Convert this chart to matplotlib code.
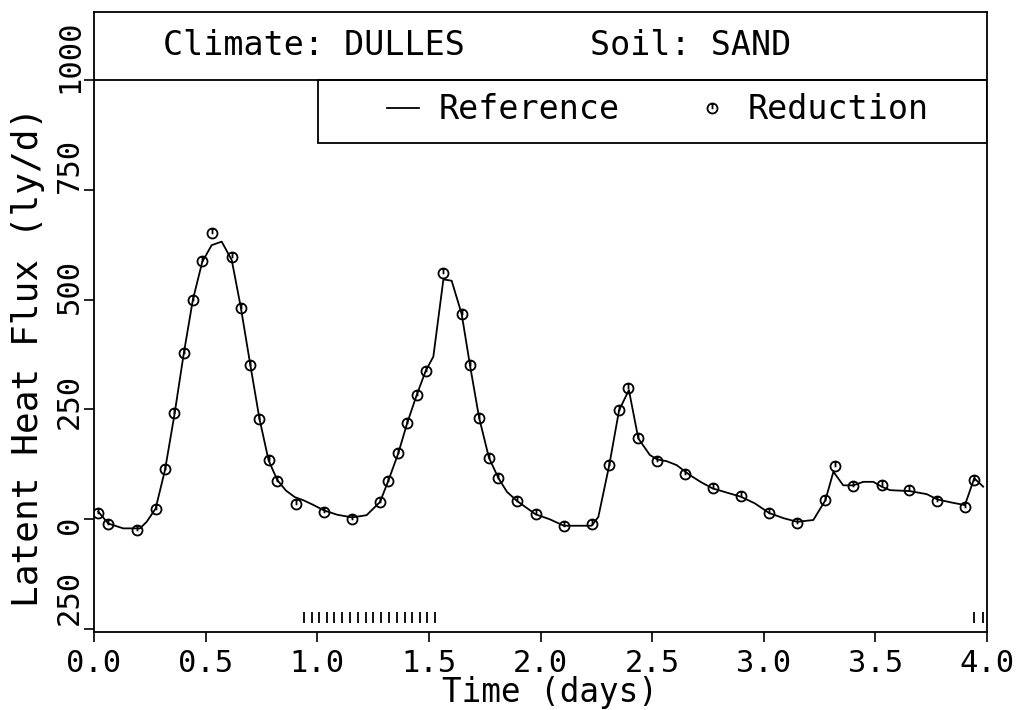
import matplotlib
matplotlib.use('Agg')
import matplotlib.pyplot as plt
from matplotlib.path import Path
from matplotlib.patches import Rectangle
from matplotlib.lines import Line2D
from matplotlib.transforms import blended_transform_factory

# ---------------- data ----------------
ref_t = [0.019, 0.064, 0.131, 0.206, 0.236, 0.276, 0.318, 0.360, 0.402, 0.443,
         0.485, 0.527, 0.572, 0.617, 0.657, 0.699, 0.741, 0.782, 0.821, 0.860,
         0.900, 0.938, 0.980, 1.030, 1.090, 1.156, 1.221, 1.281, 1.318, 1.363,
         1.403, 1.445, 1.486, 1.520, 1.565, 1.602, 1.647, 1.684, 1.725, 1.769,
         1.811, 1.850, 1.896, 1.978, 2.040, 2.105, 2.229, 2.259, 2.308, 2.352,
         2.396, 2.438, 2.490, 2.523, 2.565, 2.610, 2.670, 2.720, 2.771, 2.898,
         2.960, 3.024, 3.090, 3.150, 3.222, 3.276, 3.312, 3.356, 3.401, 3.446,
         3.491, 3.528, 3.566, 3.652, 3.730, 3.777, 3.840, 3.901, 3.943, 3.983]
ref_v = [17, -10, -21, -21, -6, 24, 112, 237, 377, 500,
         586, 624, 632, 590, 484, 355, 229, 134, 89, 65,
         50, 43, 33, 20, 10, 4, 9, 39, 87, 150,
         219, 282, 338, 370, 546, 543, 467, 351, 231, 140,
         94, 62, 41, 11, 0, -15, -15, 5, 123, 248,
         294, 184, 146, 136, 132, 123, 100, 84, 70, 51,
         36, 14, 2, -6, -2, 43, 108, 77, 77, 85,
         85, 74, 66, 64, 57, 45, 38, 32, 93, 74]

red_t = [0.019, 0.064, 0.191, 0.276, 0.318, 0.360, 0.402, 0.443, 0.485, 0.530,
         0.617, 0.657, 0.699, 0.741, 0.782, 0.821, 0.905, 1.030, 1.156, 1.281,
         1.318, 1.363, 1.403, 1.445, 1.486, 1.565, 1.647, 1.684, 1.725, 1.769,
         1.811, 1.896, 1.978, 2.105, 2.229, 2.308, 2.352, 2.393, 2.435, 2.520,
         2.647, 2.771, 2.898, 3.024, 3.150, 3.276, 3.319, 3.401, 3.528, 3.652,
         3.777, 3.901, 3.943]
red_v = [15, -11, -25, 23, 115, 241, 379, 500, 589, 652,
         596, 481, 352, 228, 134, 87, 35, 16, 0, 38,
         87, 150, 219, 282, 338, 561, 467, 351, 231, 140,
         94, 41, 11, -15, -11, 124, 248, 299, 184, 132,
         102, 72, 52, 13, -8, 43, 121, 75, 77, 66,
         41, 27, 89]

rug_t = [0.941, 0.975, 1.009, 1.042, 1.077, 1.109, 1.147, 1.181, 1.218, 1.251,
         1.286, 1.321, 1.356, 1.393, 1.426, 1.460, 1.493, 1.527, 3.942, 3.983]

xticks = [0.0, 0.5, 1.0, 1.5, 2.0, 2.5, 3.0, 3.5, 4.0]
xticklabels = ['0.0', '0.5', '1.0', '1.5', '2.0', '2.5', '3.0', '3.5', '4.0']
yticks = [-250, 0, 250, 500, 750, 1000]
yticklabels = ['250', '0', '250', '500', '750', '1000']

title_left = 'Climate: DULLES'
title_right = 'Soil: SAND'
legend_labels = ['Reference', 'Reduction']
xlabel = 'Time (days)'
ylabel = 'Latent Heat Flux (ly/d)'

# ---------------- style ----------------
plt.rcParams['font.family'] = ['DejaVu Sans Mono', 'DejaVu Sans']
FS = 24
FS_TICK = 22
LW = 1.3
PX_PER_UNIT = 620 / 1412          # vertical pixels per data unit
ylabel_shift_px = [31, -6, 8, 13, 24, 24]   # plotter offsets of y labels

fig = plt.figure(figsize=(10.21, 7.10), dpi=100)
ax = fig.add_axes([94 / 1021, 78 / 710, 893 / 1021, 620 / 710])
ax.set_xlim(0, 4)
ax.set_ylim(-257, 1155)

for s in ax.spines.values():
    s.set_linewidth(LW)
    s.set_color('k')

# marker: open circle with a short vertical stroke
marker = Path.make_compound_path(
    Path.unit_circle(),
    Path([[0, -0.15], [0, 0.9]], [Path.MOVETO, Path.LINETO]))

ax.plot(ref_t, ref_v, color='k', lw=LW)
ax.plot(red_t, red_v, ls='none', marker=marker, ms=7.2, mfc='none',
        mec='k', mew=1.3)

# rug marks near bottom
ax.vlines(rug_t, 0.015, 0.032, transform=ax.get_xaxis_transform(),
          color='k', lw=1.3)

# title band
ax.axhline(1000, color='k', lw=LW)
ax.text(0.985, 1057, title_left, ha='center', va='baseline', fontsize=FS)
ax.text(2.674, 1057, title_right, ha='center', va='baseline', fontsize=FS)

# legend box
ax.add_patch(Rectangle((1.003, 856), 4 - 1.003, 144, fill=False,
                       ec='k', lw=LW))
handles = [Line2D([], [], color='k', lw=LW),
           Line2D([], [], ls='none', marker=marker, ms=7.2, mfc='none',
                  mec='k', mew=1.3)]
ax.legend(handles, legend_labels, ncol=2, loc='center',
          bbox_to_anchor=(0.6316, 0.842), frameon=False, fontsize=FS,
          handlelength=0.95, handletextpad=0.6, columnspacing=2.3,
          borderpad=0, borderaxespad=0)

# x ticks
ax.set_xticks(xticks)
ax.set_xticklabels(xticklabels, fontsize=FS_TICK)
ax.tick_params(axis='x', direction='out', length=7, width=1.2, pad=5)

# y ticks (labels drawn by hand, rotated, with the plotter's offsets)
ax.set_yticks(yticks)
ax.set_yticklabels([])
ax.tick_params(axis='y', direction='out', length=7, width=1.2)
ytr = blended_transform_factory(ax.transAxes, ax.transData)
for v, lab, dpx in zip(yticks, yticklabels, ylabel_shift_px):
    ax.text(-0.018, v + dpx / PX_PER_UNIT, lab, transform=ytr,
            rotation=90, rotation_mode='anchor', ha='center',
            va='baseline', fontsize=FS_TICK, clip_on=False)

fig.text(550 / 1021, (710 - 702) / 710, xlabel, ha='center',
         va='baseline', fontsize=23.5)
fig.text(28 / 1021, 1 - 357 / 710, ylabel, rotation=90, ha='center',
         va='center', fontsize=26)

fig.savefig('out.png', dpi=100)
